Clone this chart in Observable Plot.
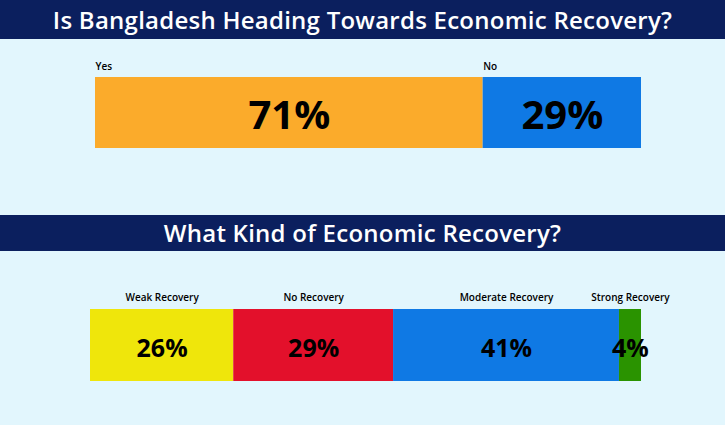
<!DOCTYPE html>
<html><head><meta charset="utf-8">
<script src="https://cdn.jsdelivr.net/npm/d3@7"></script>
<script src="https://cdn.jsdelivr.net/npm/@observablehq/plot@0.6"></script>
<style>
html,body{margin:0;padding:0}
body{background:#e2f6fd;width:725px;height:425px;overflow:hidden;font-family:"Open Sans",sans-serif}
.title{background:#0b1f5e;color:#fff;text-align:center;font-weight:600;font-size:24px;letter-spacing:0.25px;white-space:nowrap}
svg{display:block}
</style></head><body>
<div class="title" id="t1" style="height:39px;line-height:39px"></div>
<div id="c1"></div>
<div class="title" id="t2" style="height:36px;line-height:36px"></div>
<div id="c2"></div>
<script>
const title1 = "Is Bangladesh Heading Towards Economic Recovery?";
const title2 = "What Kind of Economic Recovery?";
const answers = ["Yes", "No"];
const answerValues = [71, 29];
const answerColors = ["#fbab2b", "#0f79e4"];
const kinds = ["Weak Recovery", "No Recovery", "Moderate Recovery", "Strong Recovery"];
const kindValues = [26, 29, 41, 4];
const kindColors = ["#efe60b", "#e3102b", "#0f79e4", "#2a9300"];

document.getElementById("t1").textContent = title1;
document.getElementById("t2").textContent = title2;

const d1 = answers.map((c, i) => ({cat: c, value: answerValues[i]}));
const d2 = kinds.map((c, i) => ({cat: c, value: kindValues[i]}));
const font = "'Open Sans', sans-serif";

const p1 = Plot.plot({
  width: 725, height: 176,
  marginLeft: 95, marginRight: 84, marginTop: 38, marginBottom: 67,
  x: {domain: [0, 100], axis: null},
  color: {domain: answers, range: answerColors},
  style: {background: "transparent", fontFamily: font},
  marks: [
    Plot.barX(d1, Plot.stackX({x: "value", fill: "cat", order: null})),
    Plot.textX(d1, Plot.stackX({x: "value", order: null, text: d => d.value + "%", fontSize: 40, fontWeight: 700, fill: "#000", dy: 3})),
    Plot.textX(d1, Plot.stackX1({x: "value", order: null, text: "cat", textAnchor: "start", fontSize: 10, fontWeight: 600, fill: "#000", dy: -46}))
  ]
});
document.getElementById("c1").appendChild(p1);

const p2 = Plot.plot({
  width: 725, height: 174,
  marginLeft: 90, marginRight: 84, marginTop: 58, marginBottom: 44,
  x: {domain: [0, 100], axis: null},
  color: {domain: kinds, range: kindColors},
  style: {background: "transparent", fontFamily: font},
  marks: [
    Plot.barX(d2, Plot.stackX({x: "value", fill: "cat", order: null})),
    Plot.textX(d2, Plot.stackX({x: "value", order: null, text: d => d.value + "%", fontSize: 25, fontWeight: 700, fill: "#000", dy: 3})),
    Plot.textX(d2, Plot.stackX({x: "value", order: null, text: "cat", fontSize: 10, fontWeight: 600, fill: "#000", dy: -48}))
  ]
});
document.getElementById("c2").appendChild(p2);
</script>
</body></html>
